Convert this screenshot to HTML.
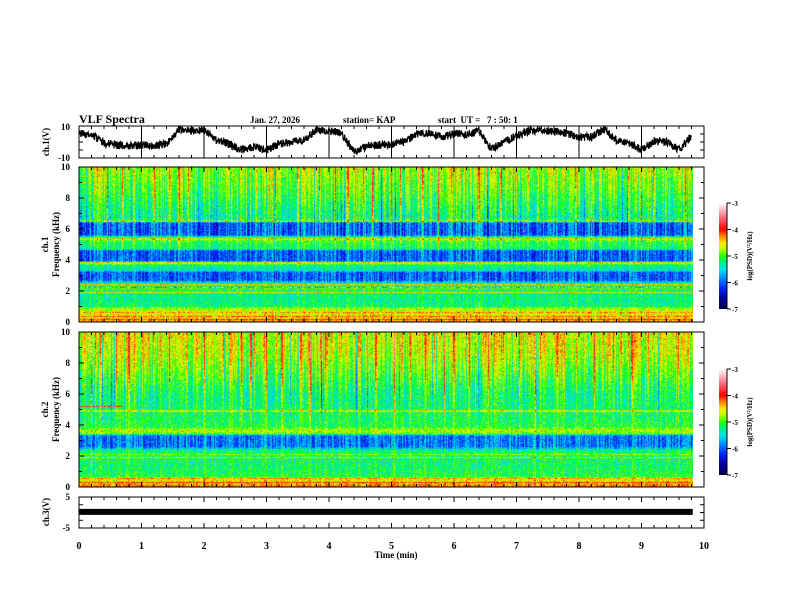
<!DOCTYPE html>
<html><head><meta charset="utf-8">
<style>
html,body{margin:0;padding:0;background:#fff;}
#root{position:relative;width:792px;height:612px;overflow:hidden;background:#fff;}
canvas{position:absolute;}
svg{position:absolute;left:0;top:0;}
text{font-family:"Liberation Serif",serif;font-weight:bold;fill:#000;}
</style></head>
<body>
<div id="root">
<canvas id="spec1" width="614" height="155" style="left:79px;top:167px;"></canvas>
<canvas id="spec2" width="614" height="155" style="left:79px;top:332px;"></canvas>
<svg id="ov" width="792" height="612">
<defs>
<linearGradient id="cbg" x1="0" y1="1" x2="0" y2="0">
<stop offset="0" stop-color="rgb(0,0,60)"/><stop offset="0.1" stop-color="rgb(0,0,160)"/>
<stop offset="0.2" stop-color="rgb(0,40,255)"/><stop offset="0.3" stop-color="rgb(0,150,255)"/>
<stop offset="0.375" stop-color="rgb(0,230,230)"/><stop offset="0.45" stop-color="rgb(0,240,120)"/>
<stop offset="0.5" stop-color="rgb(40,255,0)"/><stop offset="0.575" stop-color="rgb(200,255,0)"/>
<stop offset="0.625" stop-color="rgb(255,230,0)"/><stop offset="0.69" stop-color="rgb(255,130,0)"/>
<stop offset="0.75" stop-color="rgb(255,0,0)"/><stop offset="0.875" stop-color="rgb(255,120,140)"/>
<stop offset="1" stop-color="rgb(255,255,255)"/>
</linearGradient>
</defs>
<text x="79" y="123" font-size="12">VLF Spectra</text>
<text x="250" y="123" font-size="9">Jan. 27, 2026</text>
<text x="343" y="123" font-size="9">station= KAP</text>
<text x="438" y="123" font-size="9" xml:space="preserve">start  UT =   7 : 50: 1</text>
<g id="axes"></g>
</svg>
</div>
<script>
// ===== data =====
const waveTimes = [0,0.2,0.4,0.6,0.8,1.0,1.2,1.4,1.6,1.8,2.0,2.2,2.4,2.6,2.8,3.0,3.2,3.4,3.6,3.8,4.0,4.2,4.4,4.6,4.8,5.0,5.2,5.4,5.6,5.8,6.0,6.2,6.4,6.6,6.8,7.0,7.2,7.4,7.6,7.8,8.0,8.2,8.4,8.6,8.8,9.0,9.2,9.4,9.6,9.8];
const waveValues = [5.6,4.4,-0.6,-1.9,-2.5,-1.9,-2.5,-1.2,8.1,6.9,7.5,1.2,-1.2,-5,-3.1,-5,-1.2,0,1.2,7.5,6.9,5,-6.2,-2.5,-1.9,-1.2,0,5,5.6,3.1,5,4.4,6.9,-4.4,0,3.8,6.9,7.5,6.9,5.6,3.1,3.1,8.1,0.6,-0.6,-5,0.6,0,-5,3.8];
const ch3Value = 0.2;
const ch1ProfileFreq = [0,0.3,0.6,0.9,1.0,1.5,2.0,2.2,2.5,2.7,3.2,3.3,3.6,3.8,3.95,4.6,4.7,5.1,5.3,5.5,5.6,6.4,6.5,6.7,7.5,8.5,10];
const ch1ProfileLevel = [-4.3,-4.5,-4.6,-4.8,-5.2,-5.25,-5.2,-5.0,-5.3,-6.0,-6.0,-5.4,-5.3,-4.8,-6.0,-6.0,-5.2,-5.1,-4.9,-5.2,-6.0,-6.0,-4.9,-5.3,-5.15,-4.95,-4.75];
const ch1LineFreq = [0.15,0.35,0.6,1.9,2.25,2.4,3.8,5.35,6.5];
const ch1LineLevel = [-4.0,-4.2,-4.3,-4.6,-4.3,-4.5,-4.6,-4.6,-4.6];
const ch1Spikes = [0.3,0.45,0.7,1.2,1.45,1.6,1.75,2.0,2.45,2.6,2.85,3.15,3.5,3.85,4.1,4.3,4.55,4.7,5.0,5.15,5.5,5.75,5.95,6.1,6.4,6.75,7.0,7.35,7.6,7.95,8.2,8.5,8.8,9.0,9.2,9.45,9.7];
const ch2ProfileFreq = [0,0.5,0.7,1.5,2.3,2.5,2.6,3.3,3.45,3.7,3.9,5,6,7,7.5,8.5,10];
const ch2ProfileLevel = [-4.2,-4.6,-5.1,-5.2,-5.15,-5.6,-5.9,-5.9,-4.9,-4.8,-5.1,-5.2,-5.2,-5.0,-4.9,-4.7,-4.6];
const ch2LineFreq = [0.3,0.55,1.9,2.1,3.6,4.9];
const ch2LineLevel = [-4.0,-4.3,-4.5,-4.8,-4.5,-4.7];
const ch2Spikes = [0.2,0.35,0.6,0.8,1.05,1.3,1.45,2.0,2.3,2.6,2.75,3.0,3.25,3.55,3.7,3.95,4.2,4.5,4.75,5.05,5.3,5.55,5.85,6.0,6.25,6.55,6.8,7.05,7.3,7.65,7.9,8.25,8.55,8.85,9.1,9.35,9.6];
const ch2SegT0 = [0], ch2SegT1 = [0.7], ch2SegF = [5.2], ch2SegL = [-4.0];
const xTicks = [0,1,2,3,4,5,6,7,8,9,10];
const freqTicks = [0,2,4,6,8,10];
const cbTicks = [-3,-4,-5,-6,-7];

// ===== scales =====
const X0=79, X1=704;
const xs = t => X0 + (X1-X0)*t/10;
const ch1Y = v => 142 - v*16/10;
const ch3Y = v => 512.5 - v*31/10;

function hash(a,b){let h=(a*374761393+b*668265263)|0;h=(h^(h>>>13))*1274126177|0;h=h^(h>>>16);return ((h>>>0)%10000)/10000;}
function interp(xa,ya,x){for(let i=1;i<xa.length;i++){if(x<=xa[i]){const r=(x-xa[i-1])/(xa[i]-xa[i-1]);return ya[i-1]+r*(ya[i]-ya[i-1]);}}return ya[ya.length-1];}
const stopsV=[-7,-6.6,-6.2,-5.8,-5.5,-5.2,-5,-4.7,-4.5,-4.25,-4,-3.5,-3];
const stopsC=[[0,0,60],[0,0,160],[0,40,255],[0,150,255],[0,230,230],[0,240,120],[40,255,0],[200,255,0],[255,230,0],[255,130,0],[255,0,0],[255,120,140],[255,255,255]];
function cmap(v){if(v<=stopsV[0])return stopsC[0];for(let i=1;i<stopsV.length;i++){if(v<=stopsV[i]){const r=(v-stopsV[i-1])/(stopsV[i]-stopsV[i-1]);const a=stopsC[i-1],b=stopsC[i];return [a[0]+r*(b[0]-a[0]),a[1]+r*(b[1]-a[1]),a[2]+r*(b[2]-a[2])];}}return stopsC[stopsC.length-1];}

function drawSpec(id,pf,pl,lf,ll,spikes,seed,segs){
  const c=document.getElementById(id),ctx=c.getContext('2d');
  const W=c.width,H=c.height,img=ctx.createImageData(W,H);
  const pxPerMin=(X1-X0)/10;
  for(let i=0;i<W;i++){
    const t=(i+0.5)/pxPerMin;
    let sp=0;
    spikes.forEach((s,k)=>{const d=Math.abs(t-s)*pxPerMin;const amp=0.5+0.8*hash(k,seed+1);if(d<0.9)sp=Math.max(sp,amp*(1-d/1.2));});
    const cn=hash(i,seed)-0.5;
    const streak=(hash(i,seed+7)-0.5)*0.7;
    const dark=hash(i,seed+9)>0.93?-0.7:0;
    for(let j=0;j<H;j++){
      const f=10*(1-(j+0.5)/H);
      let v=interp(pf,pl,f);
      for(let k=0;k<lf.length;k++){if(Math.abs(f-lf[k])<0.04)v=Math.max(v,ll[k]);}
      if(segs){for(let k=0;k<segs[0].length;k++){if(t>=segs[0][k]&&t<=segs[1][k]&&Math.abs(f-segs[2][k])<0.05)v=segs[3][k];}}
      const hf=f>3?Math.min(1,(f-3)/4):0.15;
      v+=sp*hf;
      v+=(streak+dark*0.6)*hf;
      v+=(hash(i*7+seed,j*13)-0.5)*0.6 + cn*(v<-5.5?0.7:0.25);
      const col=cmap(v),p=(j*W+i)*4;
      img.data[p]=col[0];img.data[p+1]=col[1];img.data[p+2]=col[2];img.data[p+3]=255;
    }
  }
  ctx.putImageData(img,0,0);
}
drawSpec('spec1',ch1ProfileFreq,ch1ProfileLevel,ch1LineFreq,ch1LineLevel,ch1Spikes,11,null);
drawSpec('spec2',ch2ProfileFreq,ch2ProfileLevel,ch2LineFreq,ch2LineLevel,ch2Spikes,29,[ch2SegT0,ch2SegT1,ch2SegF,ch2SegL]);

// ===== SVG axes =====
const NS='http://www.w3.org/2000/svg';
const g=document.getElementById('axes');
function el(tag,attrs,parent){const e=document.createElementNS(NS,tag);for(const k in attrs)e.setAttribute(k,attrs[k]);(parent||g).appendChild(e);return e;}
function txt(x,y,s,size,anchor,name,rot){const e=el('text',{x:x,y:y,'font-size':size,'text-anchor':anchor||'start'});if(rot)e.setAttribute('transform',`rotate(-90 ${x} ${y})`);e.textContent=s;


return e;}

function panel(y0,y1,name){
  const r=el('rect',{x:X0,y:y0,width:X1-X0,height:y1-y0,fill:'none',stroke:'#000','stroke-width':1});
  
  
  for(let k=0;k<=50;k++){const t=k*0.2,x=xs(t),L=(k%5===0)?5:3;
    el('line',{x1:x,y1:y0,x2:x,y2:y0+L,stroke:'#000'});el('line',{x1:x,y1:y1,x2:x,y2:y1-L,stroke:'#000'});}
}
// ch1 panel
panel(126,158,'ch1-panel');
for(const t of xTicks){el('line',{x1:xs(t),y1:126,x2:xs(t),y2:158,stroke:'#000','stroke-width':1});}
for(let v=-10;v<=10;v+=5){const y=ch1Y(v);el('line',{x1:X0,y1:y,x2:X0+4,y2:y,stroke:'#000'});el('line',{x1:X1,y1:y,x2:X1-4,y2:y,stroke:'#000'});}
txt(70,130,'10',9,'end','ch1-ytick-10');
txt(70,161,'-10',9,'end','ch1-ytick-neg10');
txt(49,142,'ch.1(V)',9,'middle','ch1-y-title',true);
// waveform
let pts=[];
for(let k=0;k<=1960;k++){const t=k*0.005;let v=interp(waveTimes,waveValues,t)+(hash(k,5)-0.5)*5;v=Math.max(-10,Math.min(10,v));pts.push(xs(t).toFixed(1)+','+ch1Y(v).toFixed(1));}
const wl=el('polyline',{points:pts.join(' '),fill:'none',stroke:'#000','stroke-width':1.2});



// spectrogram panels
function specAxes(y0,y1,label,name,cbTop){
  panel(y0,y1,name+'-panel');
  const fy=f=>y1-(y1-y0)*f/10;
  for(let f=0;f<=10;f+=1){const L=f%2===0?5:3;el('line',{x1:X0,y1:fy(f),x2:X0+L,y2:fy(f),stroke:'#000'});el('line',{x1:X1,y1:fy(f),x2:X1-L,y2:fy(f),stroke:'#000'});}
  for(const f of freqTicks){txt(70,fy(f)+3,String(f),9,'end',name+'-ytick-'+f);}
  txt(48,(y0+y1)/2,label,9,'middle',name+'-channel-title',true);
  txt(59,(y0+y1)/2,'Frequency (kHz)',9,'middle',name+'-y-title',true);
  const cb=el('rect',{x:719,y:cbTop,width:8,height:106,fill:'url(#cbg)'});
  
  
  el('line',{x1:727,y1:cbTop,x2:727,y2:cbTop+106,stroke:'#000'});
  for(const v of cbTicks){const y=cbTop+106*(-3-v)/4;el('line',{x1:727,y1:y,x2:731,y2:y,stroke:'#000'});txt(732,y+3,String(v),7,'start',name+'-cbtick');}
  const t=el('text',{x:752,y:cbTop+53,'font-size':7,'text-anchor':'middle',transform:`rotate(-90 752 ${cbTop+53})`});
  t.textContent='log(PSD)(V\u00B2/Hz)';
  
  
}
specAxes(167,322,'ch.1','ch1-spec',203);
specAxes(332,487,'ch.2','ch2-spec',369);

// ch3
panel(497,528,'ch3-panel');
for(const v of [-5,-2.5,0,2.5,5]){const y=ch3Y(v);el('line',{x1:X0,y1:y,x2:X0+4,y2:y,stroke:'#000'});el('line',{x1:X1,y1:y,x2:X1-4,y2:y,stroke:'#000'});}
txt(70,500,'5',9,'end','ch3-ytick-5');
txt(70,531,'-5',9,'end','ch3-ytick-neg5');
txt(49,512,'ch.3(V)',9,'middle','ch3-y-title',true);
const bar=el('rect',{x:X0,y:ch3Y(ch3Value)-3,width:xs(9.82)-X0,height:6,fill:'#000'});


for(const t of xTicks){txt(xs(t),549,String(t),10,'middle','x-tick-'+t);}
txt(396,558,'Time  (min)',9,'middle','x-axis-title');
</script>
</body></html>
